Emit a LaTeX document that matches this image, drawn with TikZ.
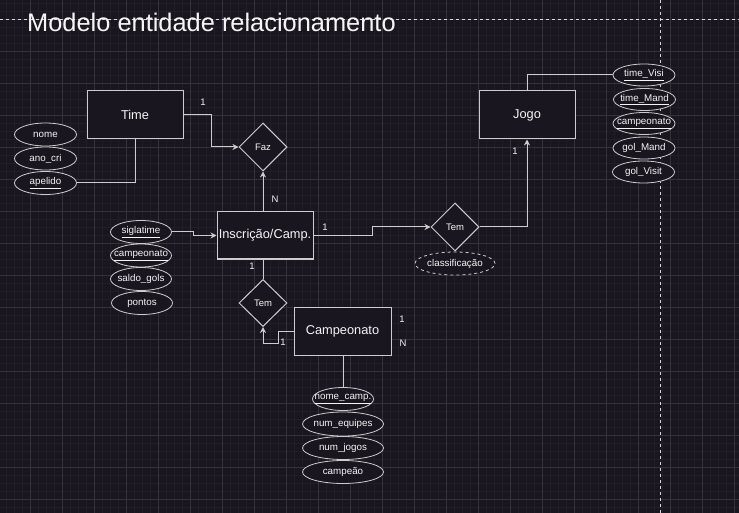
\documentclass[tikz,border=0pt]{standalone}
\usepackage{fontspec}
\setmainfont{Liberation Sans}
\usetikzlibrary{shapes.geometric,arrows.meta}
\definecolor{bgc}{RGB}{25,22,31}
\definecolor{minorc}{RGB}{33,30,40}
\definecolor{majorc}{RGB}{52,50,58}
\definecolor{linec}{RGB}{205,205,205}
\definecolor{txtc}{RGB}{245,245,245}
\newcommand{\zb}[1]{\makebox[0pt]{#1}}
\tikzset{
  ent/.style={draw=linec,fill=bgc,line width=1pt,rectangle,minimum width=96pt,minimum height=48pt,inner sep=0pt,text=txtc,font=\fontsize{12.8}{14}\selectfont},
  rel/.style={draw=linec,fill=bgc,line width=1pt,diamond,aspect=1,minimum width=48pt,minimum height=48pt,inner sep=0pt,text=txtc,font=\fontsize{9.5}{11}\selectfont},
  attr/.style={draw=linec,fill=bgc,line width=0.8pt,ellipse,minimum width=62pt,minimum height=23pt,inner sep=0pt,text=txtc,font=\fontsize{9.8}{11}\selectfont},
  wattr/.style={attr,minimum width=81pt},
  conn/.style={draw=linec,line width=1pt},
  arr/.style={conn,-{Stealth[length=6pt,width=6pt]}},
  card/.style={text=txtc,font=\fontsize{9.5}{11}\selectfont,inner sep=0pt},
  minorg/.style={draw=minorc,line width=0.6pt},
  majorg/.style={draw=majorc,line width=0.7pt},
  pageline/.style={draw=linec!80,line width=0.8pt,dash pattern=on 3pt off 3pt},
}
\begin{document}
\begin{tikzpicture}[x=1pt,y=-1pt]
\fill[bgc] (0,0) rectangle (739,513);
\useasboundingbox (0,0) rectangle (739,513);
% grid
\foreach \i in {0,...,92} {\draw[minorg] ({6.7+8*\i},0) -- ({6.7+8*\i},513);}
\foreach \i in {0,...,64} {\draw[minorg] (0,{3.3+8*\i}) -- (739,{3.3+8*\i});}
\foreach \i in {-1,...,22} {\draw[majorg] ({30.7+32*\i},0) -- ({30.7+32*\i},513);}
\foreach \i in {-1,...,15} {\draw[majorg] (0,{19.3+32*\i}) -- (739,{19.3+32*\i});}
% page boundary lines
\coordinate (pl1) at (0,19);
\coordinate (pl2) at (739,19);
\coordinate (pl3) at (660,0);
\coordinate (pl4) at (660,513);
\draw[pageline] (pl1) -- (pl2);
\draw[pageline] (pl3) -- (pl4);
% title
\node[anchor=base west,inner sep=0pt,text=txtc,font=\fontsize{25.4}{28}\selectfont] (title) at (27,32) {Modelo entidade relacionamento};
% entities
\node[ent] (time) at (135,115) {Time};
\node[ent] (jogo) at (527,115) {Jogo};
\node[ent,minimum height=47pt] (insc) at (265,235.5) {Inscrição/Camp.};
\node[ent,minimum width=97pt] (camp) at (342.5,331) {Campeonato};
% relationships
\node[rel] (faz) at (263,147) {Faz};
\node[rel] (tem1) at (455,227) {Tem};
\node[rel,minimum height=47pt] (tem2) at (263,303) {Tem};
% attributes of Time
\node[attr] (nome) at (45.5,134.5) {\zb{nome}};
\node[attr] (anocri) at (45.5,158.5) {\zb{ano\_cri}};
\node[attr] (apelido) at (45.5,183) {\zb{\underline{apelido}}};
% attributes of Inscricao
\node[attr,minimum width=61pt] (sigla) at (141,232) {\zb{\underline{siglatime}}};
\node[attr,minimum width=61pt] (campeo1) at (141,255.5) {\zb{\underline{campeonato}}};
\node[attr,minimum width=61pt] (saldo) at (141,279) {\zb{saldo\_gols}};
\node[attr,minimum width=61pt] (pontos) at (142,303) {\zb{pontos}};
% attributes of Jogo
\node[attr,minimum height=22pt] (tvisi) at (644,75) {\zb{\underline{time\_Visi}}};
\node[attr,minimum height=22pt] (tmand) at (644.5,99.5) {\zb{\underline{time\_Mand}}};
\node[attr,minimum height=22pt] (campeo2) at (644,123.5) {\zb{\underline{campeonato}}};
\node[attr,minimum height=22pt] (golmand) at (644,148) {\zb{gol\_Mand}};
\node[attr,minimum height=22pt] (golvisit) at (643.5,172) {\zb{gol\_Visit}};
% relationship attribute
\node[attr,dashed,minimum width=80pt] (classif) at (455,263.5) {\zb{classificação}};
% attributes of Campeonato
\node[attr,minimum width=61pt] (nomecamp) at (343,399) {\zb{\underline{nome\_camp.}}};
\node[wattr,minimum height=24pt] (numeq) at (343,424) {\zb{num\_equipes}};
\node[wattr] (numjogos) at (343,448) {\zb{num\_jogos}};
\node[wattr] (campeao) at (343,472) {\zb{campeão}};
% connectors
\draw[arr] (time.east) -- ++(28,0) |- (faz.west);
\draw[conn] (apelido.east) -| (time.south);
\draw[arr] (faz.south |- insc.north) -- (faz.south);
\draw[arr] (sigla.east) -- ++(22,0) |- (insc.west);
\draw[arr] (insc.east) -- ++(59,0) |- (tem1.west);
\draw[arr] (tem1.east) -| (jogo.south);
\draw[conn] (jogo.north) |- (tvisi.west);
\draw[conn] (tem2.north |- insc.south) -- (tem2.north);
\draw[arr] (camp.west) -- ++(-15,0) -- ++(0,12) -| (tem2.south);
\draw[conn] (nomecamp.north |- camp.south) -- (nomecamp.north);
% cardinalities
\node[card] (c1) at (203,102) {1};
\node[card] (c2) at (275,199) {N};
\node[card] (c3) at (325,227) {1};
\node[card] (c4) at (515,151) {1};
\node[card] (c5) at (252,266) {1};
\node[card] (c6) at (283,342) {1};
\node[card] (c7) at (402,319) {1};
\node[card] (c8) at (403,343) {N};
\end{tikzpicture}
\end{document}
